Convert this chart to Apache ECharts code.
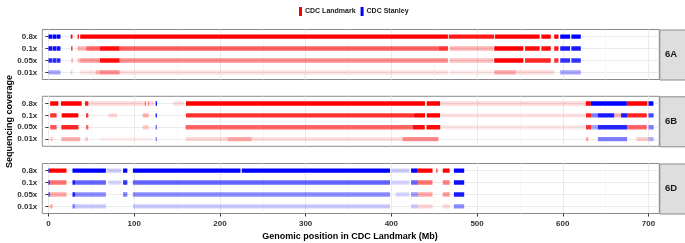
<!DOCTYPE html>
<html><head><meta charset="utf-8">
<script src="https://cdn.jsdelivr.net/npm/echarts@6/dist/echarts.min.js"></script>
<style>html,body{margin:0;padding:0;background:#fff}#c{width:685px;height:243px}</style>
</head><body><div id="c"></div>
<script>
// ---- data (Mb start, Mb end, density) per coverage row ----
const coverage = ['0.8x', '0.1x', '0.05x', '0.01x'];
const panels = ['6A', '6B', '6D'];
const xTicks = [0, 100, 200, 300, 400, 500, 600, 700];
const xMinor = [50, 150, 250, 350, 450, 550, 650];

const landmark6A = [
  [[26,28,1],[34,35.5,1],[37,466,1],[467,520,0.9],[521,573,1],[575,586,1],[590,595,1]],
  [[26.5,28,0.9],[34,37,0.35],[37,44,0.3],[44,60,0.6],[60,83,0.95],[83,455,0.62],[455,466,0.8],[468,519,0.3],[520,554,1],[556,573,0.95],[575,586,0.95],[590,595,0.9]],
  [[27,28,0.6],[34,37,0.25],[37,60,0.4],[60,83,0.95],[83,466,0.45],[468,519,0.25],[520,554,1],[556,586,0.85],[590,595,0.8]],
  [[26,28,0.2],[37,55,0.1],[55,60,0.3],[60,83,0.45],[83,466,0.12],[468,519,0.08],[520,545,0.35],[545,590,0.15]]
];
const stanley6A = [
  [[0,4.5,1],[5,9.5,1],[10,14,1],[597,608.5,1],[610,621,1]],
  [[0,4.5,0.95],[5,9.5,0.95],[10,14,0.95],[597,608.5,0.9],[610,621,0.9]],
  [[0,4.5,0.85],[5,9.5,0.85],[10,14,0.85],[597,608.5,0.8],[610,621,0.8]],
  [[0,14,0.35],[597,621,0.35]]
];
const landmark6B = [
  [[2,11.5,1],[14.5,38.7,1],[42.6,46.5,0.9],[47,111,0.15],[112,114,0.5],[116,117.5,0.5],[118,123,0.15],[145,158,0.12],[160.4,439.3,1],[441.3,456.8,1],[457,626,0.15],[626.8,632.7,1],[674.7,698.7,1]],
  [[2,9.5,0.8],[15.4,34.8,1],[43.8,46.5,0.8],[70,80,0.15],[110,117,0.3],[160.4,425.7,0.8],[425.7,439.3,1],[441.3,456.8,1],[457,626,0.1],[627,633,0.85],[660,668,0.3],[675,698,0.85]],
  [[2,9.5,0.65],[15,35,0.85],[43.8,46.5,0.6],[110,117,0.2],[160,425,0.6],[425,439,0.95],[441,457,0.95],[457,626,0.08],[627,633,0.8],[675,698,0.6]],
  [[2,5,0.2],[15,37,0.3],[43,46,0.2],[60,120,0.05],[160,209,0.15],[209,237,0.35],[237,413,0.12],[413,455,0.45],[627,630,0.3],[686,700,0.2]]
];
const stanley6B = [
  [[125,126.5,1],[632.7,674.7,1],[700,705.7,1]],
  [[125,126.5,0.9],[633,641,0.5],[641,660,0.9],[668,675,0.9],[700,706,0.7]],
  [[125,126.5,0.6],[633,641,0.35],[641,675,0.85],[700,706,0.5]],
  [[125,126.5,0.5],[641,675,0.5],[700,706,0.3]]
];
const landmark6D = [
  [[1.5,21,1],[430,448,1],[452,454,0.6],[460,468,1]],
  [[1.5,21,0.55],[431,448,0.55],[460,468,0.5]],
  [[1.5,21,0.35],[431,448,0.35],[460,468,0.4]],
  [[1.5,5,0.3],[431,448,0.15],[460,468,0.15]]
];
const stanley6D = [
  [[0,1.5,1],[28,67,1],[68,85,0.2],[87,92,1],[98.5,224,1],[225.5,398.5,1],[400,421,0.2],[423,430,1],[473,485,1]],
  [[0,1.5,0.9],[28,31,0.9],[31,67,0.6],[70,85,0.15],[87,92,0.8],[98.5,398.5,0.6],[400,421,0.15],[423,431,0.6],[473,485,0.95]],
  [[0,1.5,0.8],[28,31,0.9],[31,67,0.45],[87,92,0.5],[98.5,398.5,0.45],[405,421,0.15],[423,431,0.4],[473,485,0.9]],
  [[28,31,0.5],[31,67,0.2],[98.5,398.5,0.2],[423,431,0.2],[473,485,0.45]]
];

// ---- layout / style ----
const RED = '#ff0000', BLUE = '#0000ff';
const FONT = 'Liberation Sans, Arial, Helvetica, sans-serif';
const gridTops = [29.5, 96.3, 163.5];
const gridH = 50;
const X_MIN = -7.2, X_MAX = 712.6;
const landmarkData = [landmark6A, landmark6B, landmark6D];
const stanleyData = [stanley6A, stanley6B, stanley6D];

function toItems(rows) {
  const out = [];
  rows.forEach((segs, r) => segs.forEach(s => out.push([s[0], s[1], r + 1, s[2]])));
  return out;
}
function renderer(color) {
  return function (params, api) {
    const a = api.coord([api.value(0), api.value(2)]);
    const b = api.coord([api.value(1), api.value(2)]);
    const h = 4.4;
    return {
      type: 'rect',
      shape: { x: a[0], y: a[1] - h / 2, width: Math.max(b[0] - a[0], 0.9), height: h },
      style: { fill: color, opacity: api.value(3) }
    };
  };
}

const grids = [], xAxes = [], yAxes = [], series = [], graphics = [];
panels.forEach((p, i) => {
  grids.push({ left: 42.3, right: 685 - 659.3, top: gridTops[i], height: gridH, show: true,
    borderColor: '#8a8a8a', borderWidth: 1, backgroundColor: 'transparent' });
  // minor grid axis
  xAxes.push({ type: 'value', gridIndex: i, position: 'bottom', min: X_MIN, max: X_MAX,
    axisLine: { show: false }, axisLabel: { show: false },
    axisTick: { show: false, customValues: xMinor },
    splitLine: { show: true, lineStyle: { color: '#f3f3f3', width: 0.6 } } });
  // major axis
  xAxes.push({ type: 'value', gridIndex: i, position: 'bottom', offset: 0, min: X_MIN, max: X_MAX,
    axisLine: { show: false },
    axisTick: { show: i === 2, customValues: xTicks, length: 3, lineStyle: { color: '#333' } },
    axisLabel: { show: i === 2, customValues: xTicks, margin: 6, fontSize: 8, fontWeight: 'bold', color: '#333', fontFamily: FONT },
    splitLine: { show: true, lineStyle: { color: '#ebebeb', width: 1 } } });
  yAxes.push({ type: 'value', gridIndex: i, min: 0.4, max: 4.6, inverse: true,
    axisLine: { show: false },
    axisTick: { show: true, customValues: [1, 2, 3, 4], length: 3, lineStyle: { color: '#333' } },
    axisLabel: { customValues: [1, 2, 3, 4], margin: 5, fontSize: 8, fontWeight: 'bold', color: '#333', fontFamily: FONT,
      formatter: v => coverage[Math.round(v) - 1] },
    splitLine: { show: true, lineStyle: { color: '#ebebeb', width: 1 } } });
  series.push({ type: 'custom', name: 'CDC Landmark', xAxisIndex: 2 * i + 1, yAxisIndex: i,
    itemStyle: { color: RED }, encode: { x: [0, 1], y: 2 }, data: toItems(landmarkData[i]),
    renderItem: renderer(RED), clip: true, silent: true });
  series.push({ type: 'custom', name: 'CDC Stanley', xAxisIndex: 2 * i + 1, yAxisIndex: i,
    itemStyle: { color: BLUE }, encode: { x: [0, 1], y: 2 }, data: toItems(stanleyData[i]),
    renderItem: renderer(BLUE), clip: true, silent: true });
  // facet strip
  graphics.push({ type: 'rect', left: 659.3, top: gridTops[i], z: 10,
    shape: { width: 30, height: gridH },
    style: { fill: '#dedede', stroke: '#8a8a8a', lineWidth: 1 } });
  graphics.push({ type: 'text', z: 11, x: 671, y: gridTops[i] + gridH / 2,
    style: { text: p, fill: '#1a1a1a', font: 'bold 9.5px ' + FONT, align: 'center', verticalAlign: 'middle' } });
});
graphics.push({ type: 'text', x: 350, y: 237,
  style: { text: 'Genomic position in CDC Landmark (Mb)', fill: '#000', font: 'bold 9px ' + FONT, align: 'center', verticalAlign: 'middle' } });
graphics.push({ type: 'text', x: 10, y: 121.5, rotation: Math.PI / 2,
  style: { text: 'Sequencing coverage', fill: '#000', font: 'bold 9px ' + FONT, align: 'center', verticalAlign: 'middle' } });

const chart = echarts.init(document.getElementById('c'), null, { renderer: 'canvas' });
chart.setOption({
  animation: false,
  backgroundColor: '#fff',
  legend: { top: 2, left: 294, icon: 'rect', itemWidth: 3, itemHeight: 9, itemGap: 5,
    data: ['CDC Landmark', 'CDC Stanley'],
    textStyle: { fontSize: 7, fontWeight: 'bold', color: '#1a1a1a', fontFamily: FONT, padding: [0, 0, 0, -2] } },
  grid: grids, xAxis: xAxes, yAxis: yAxes, series: series, graphic: graphics
});
</script></body></html>
